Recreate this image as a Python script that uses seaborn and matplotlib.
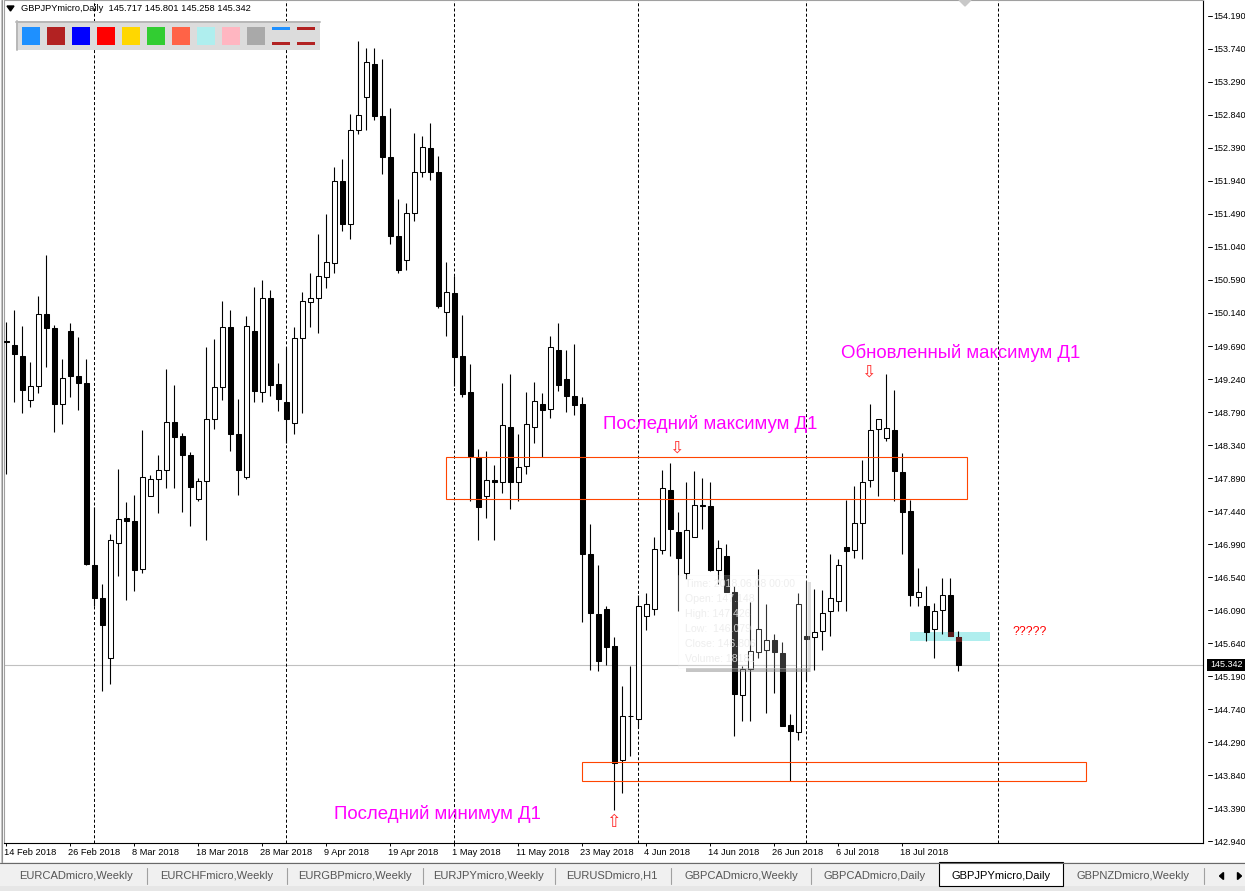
import matplotlib
matplotlib.use("Agg")
import matplotlib.pyplot as plt
import matplotlib.transforms as mtransforms
from matplotlib.patches import Rectangle, Polygon
from matplotlib.lines import Line2D
import numpy as np
import pandas as pd
import seaborn as sns

# ---------------- data ----------------
symbol = "GBPJPYmicro,Daily"
opens = [149.76, 149.71, 149.56, 148.96, 149.15, 150.12, 149.93, 148.90, 149.89, 149.28,
         149.19, 146.71, 146.26, 145.43, 147.01, 147.35, 147.30, 146.65, 147.65, 147.87,
         148.00, 148.66, 148.46, 148.20, 147.60, 147.85, 148.69, 149.13, 149.95, 148.49,
         147.90, 149.90, 149.06, 150.34, 149.17, 148.92, 148.64, 149.80, 150.29, 150.34,
         150.63, 150.82, 151.94, 151.36, 152.63, 153.09, 153.54, 152.82, 152.27, 151.19,
         150.86, 151.50, 152.06, 152.39, 152.06, 150.16, 150.41, 149.55, 149.06, 148.18,
         147.65, 147.86, 147.83, 148.59, 147.84, 148.05, 148.58, 148.90, 148.83, 149.64,
         149.24, 149.01, 148.90, 146.85, 146.04, 146.10, 145.60, 144.04, 144.64, 144.61,
         146.01, 146.11, 146.91, 147.72, 147.15, 146.60, 147.09, 147.52, 147.51, 146.64,
         146.83, 146.34, 144.93, 145.29, 145.52, 145.55, 145.68, 145.51, 144.52, 144.42,
         145.74, 145.72, 145.80, 146.07, 146.21, 146.95, 146.91, 147.27, 147.86, 148.56,
         148.43, 148.54, 147.97, 147.44, 146.27, 146.14, 145.83, 146.09, 146.29, 145.717]
highs = [150.02, 150.18, 149.96, 149.47, 150.37, 150.93, 149.98, 149.51, 150.01, 149.81,
         149.51, 147.49, 146.45, 147.13, 148.01, 147.56, 147.66, 148.55, 147.93, 148.20,
         149.38, 149.16, 148.51, 148.24, 147.89, 149.68, 149.79, 150.30, 150.18, 148.97,
         150.10, 150.50, 150.59, 150.45, 149.46, 149.67, 149.95, 150.43, 150.68, 151.22,
         151.49, 152.13, 152.24, 152.86, 153.85, 153.75, 153.75, 153.61, 152.94, 151.69,
         151.64, 152.59, 152.56, 152.73, 152.28, 150.83, 150.64, 150.11, 149.45, 148.28,
         148.26, 148.07, 149.19, 149.31, 148.49, 149.06, 149.20, 149.05, 149.83, 150.00,
         149.64, 149.72, 149.00, 147.26, 146.71, 146.14, 145.72, 145.05, 145.32, 146.29,
         146.32, 147.09, 148.00, 148.10, 147.43, 147.83, 147.99, 147.89, 147.84, 147.05,
         146.99, 146.42, 145.32, 146.20, 146.65, 146.17, 145.76, 145.65, 144.67, 146.32,
         146.48, 146.37, 146.36, 146.86, 146.78, 147.59, 147.78, 148.14, 148.90, 148.70,
         149.31, 149.09, 148.23, 147.59, 146.66, 146.42, 146.19, 146.52, 146.52, 145.801]
lows = [147.95, 148.92, 148.77, 148.86, 149.05, 149.41, 148.52, 148.63, 148.99, 148.82,
        146.70, 146.15, 144.98, 145.08, 146.55, 146.22, 146.35, 146.59, 147.64, 147.41,
        147.76, 147.75, 147.43, 147.24, 147.58, 147.04, 148.56, 148.95, 148.26, 147.66,
        147.87, 148.92, 148.92, 149.01, 148.81, 148.37, 148.49, 148.78, 149.95, 149.87,
        150.48, 150.69, 151.26, 151.15, 152.58, 152.64, 152.77, 152.04, 151.08, 150.68,
        150.72, 151.40, 152.00, 151.96, 150.21, 149.83, 149.14, 149.00, 147.58, 147.04,
        147.34, 147.04, 147.68, 147.47, 147.57, 147.94, 148.37, 148.17, 148.71, 149.08,
        148.79, 148.75, 145.93, 145.27, 145.26, 145.34, 143.36, 143.59, 144.10, 144.48,
        145.82, 146.02, 146.86, 146.82, 146.08, 146.51, 147.09, 147.19, 146.62, 146.45,
        146.33, 144.37, 144.57, 144.58, 145.44, 144.68, 144.96, 144.51, 143.76, 144.32,
        145.14, 145.27, 145.55, 145.73, 146.08, 146.08, 146.80, 146.79, 147.77, 147.64,
        148.39, 147.57, 146.86, 146.15, 146.15, 145.67, 145.44, 145.76, 145.74, 145.258]
closes = [149.74, 149.58, 149.09, 149.15, 150.12, 149.93, 148.90, 149.25, 149.28, 149.19,
          146.72, 146.26, 145.88, 147.04, 147.33, 147.30, 146.63, 147.91, 147.87, 148.00,
          148.66, 148.45, 148.20, 147.77, 147.85, 148.70, 149.13, 149.95, 148.49, 148.00,
          149.96, 149.07, 150.34, 149.16, 148.97, 148.69, 149.80, 150.30, 150.35, 150.64,
          150.83, 151.94, 151.36, 152.63, 152.84, 153.56, 152.82, 152.27, 151.19, 150.72,
          151.51, 152.06, 152.40, 152.06, 150.24, 150.42, 149.54, 149.04, 148.19, 147.50,
          147.86, 147.83, 148.61, 147.83, 148.04, 148.62, 148.94, 148.82, 149.67, 149.16,
          149.01, 148.88, 146.86, 146.05, 145.39, 145.58, 144.01, 144.64, 144.65, 146.14,
          146.17, 146.92, 147.75, 147.20, 146.80, 147.18, 147.52, 147.51, 146.64, 146.93,
          146.34, 144.95, 145.29, 145.53, 145.83, 145.68, 145.52, 144.51, 144.44, 146.17,
          145.70, 145.79, 146.05, 146.25, 146.70, 146.90, 147.27, 147.83, 148.55, 148.69,
          148.57, 147.99, 147.43, 146.29, 146.33, 145.79, 146.08, 146.30, 145.74, 145.342]

date_labels = ["14 Feb 2018", "26 Feb 2018", "8 Mar 2018", "18 Mar 2018", "28 Mar 2018",
               "9 Apr 2018", "19 Apr 2018", "1 May 2018", "11 May 2018", "23 May 2018",
               "4 Jun 2018", "14 Jun 2018", "26 Jun 2018", "6 Jul 2018", "18 Jul 2018"]
date_label_bars = [0, 8, 16, 24, 32, 40, 48, 56, 64, 72, 80, 88, 96, 104, 112]
price_ticks = [142.94, 143.39, 143.84, 144.29, 144.74, 145.19, 145.64, 146.09, 146.54,
               146.99, 147.44, 147.89, 148.34, 148.79, 149.24, 149.69, 150.14, 150.59,
               151.04, 151.49, 151.94, 152.39, 152.84, 153.29, 153.74, 154.19]
month_separator_bars = [11, 35, 56, 79, 100, 124]
bid_price = 145.342

zone_high = [147.60, 148.18]      # "Последний максимум" zone (price low/high)
zone_low = [143.754, 144.013]     # "Последний минимум" zone
zone_now = [145.667, 145.79]      # cyan zone
palette_colors = ['#1E90FF', '#B22222', '#0000FF', '#FF0000', '#FFD700',
                  '#32CD32', '#FF6347', '#AFEEEE', '#FFB6C1', '#A9A9A9']
tabs = ["EURCADmicro,Weekly", "EURCHFmicro,Weekly", "EURGBPmicro,Weekly",
        "EURJPYmicro,Weekly", "EURUSDmicro,H1", "GBPCADmicro,Weekly",
        "GBPCADmicro,Daily", "GBPJPYmicro,Daily", "GBPNZDmicro,Weekly"]
active_tab = "GBPJPYmicro,Daily"
tooltip_lines = ["Time: 2018.06.08 00:00", "Open: 147.148", "High: 147.426",
                 "Low:  146.079", "Close: 146.806", "Volume: 18181"]

# ---------------- style ----------------
sns.set_theme(style="white")
plt.rcParams['font.family'] = ['Liberation Sans', 'DejaVu Sans']

W, H = 1245, 891
fig = plt.figure(figsize=(W / 100, H / 100), dpi=100, facecolor='white')


def fx(x):
    return x / W


def fy(y):
    return 1 - y / H


def frect(x0, y0, x1, y1, **kw):
    r = Rectangle((fx(x0), fy(y1)), (x1 - x0) / W, (y1 - y0) / H,
                  transform=fig.transFigure, **kw)
    fig.add_artist(r)
    return r


def fline(xs, ys, **kw):
    fig.add_artist(Line2D([fx(v) for v in xs], [fy(v) for v in ys],
                          transform=fig.transFigure, **kw))


AX_L, AX_R, AX_T, AX_B = 4, 1203, 0, 843
ax = fig.add_axes([fx(AX_L), fy(AX_B), (AX_R - AX_L) / W, (AX_B - AX_T) / H])
ax.set_facecolor('white')

df = pd.DataFrame(dict(open=opens, high=highs, low=lows, close=closes))
df['idx'] = np.arange(len(df))
df['bull'] = df['close'] >= df['open']

# limits (pixel-calibrated)
ax.set_xlim(-0.2875, 149.5875)
ax.set_ylim(142.913, 154.408)

# month separators & bid line
for b in month_separator_bars:
    ax.axvline(b, color='black', lw=0.72, linestyle=(0, (3, 2.2)), zorder=1)
ax.axhline(bid_price, color='#C0C0C0', lw=0.8, zorder=0.8)

# cyan zone (filled, below candles)
ax.add_patch(Rectangle((113, zone_now[0]), 10, zone_now[1] - zone_now[0],
                       facecolor='#AFEEEE', edgecolor='none', zorder=1.2))

# candles
ax.vlines(df['idx'], df['low'], df['high'], color='black', lw=0.8, zorder=2)
body_lo = df[['open', 'close']].min(axis=1)
body_h = (df['close'] - df['open']).abs().clip(lower=0.006)
ax.bar(df['idx'], body_h, bottom=body_lo, width=0.58,
       color=np.where(df['bull'], 'white', 'black'), edgecolor='black',
       linewidth=0.75, zorder=3)

# dark overlap of bear bodies with the cyan zone
for i, row in df.iterrows():
    if row['idx'] >= 113 and not row['bull']:
        lo = max(min(row['open'], row['close']), zone_now[0])
        hi = min(max(row['open'], row['close']), zone_now[1])
        if hi > lo:
            ax.bar(row['idx'], hi - lo, bottom=lo, width=0.58, color='#5A1A1A',
                   edgecolor='#5A1A1A', linewidth=0.75, zorder=3.5)

# outline zones
ax.add_patch(Rectangle((55, zone_high[0]), 65.05, zone_high[1] - zone_high[0],
                       fill=False, edgecolor='#FF4500', lw=0.8, zorder=4))
ax.add_patch(Rectangle((72, zone_low[0]), 63, zone_low[1] - zone_low[0],
                       fill=False, edgecolor='#FF4500', lw=0.8, zorder=4, clip_on=False))

# annotations
mag = '#FF00FF'
ax.text(74.6, 148.558, "Последний максимум Д1", color=mag, fontsize=13.4,
        ha='left', va='baseline', zorder=5)
ax.text(104.3, 149.522, "Обновленный максимум Д1", color=mag, fontsize=13.4,
        ha='left', va='baseline', zorder=5)
ax.text(40.96, 143.236, "Последний минимум Д1", color=mag, fontsize=13.4,
        ha='left', va='baseline', zorder=5)
ax.text(125.8, 145.753, "?????", color='#FF0000', fontsize=8.8,
        ha='left', va='baseline', zorder=5)
arrow_kw = dict(color='#FF2A2A', fontsize=12.5, ha='center', va='center', zorder=5,
                family=['DejaVu Sans'])
ax.text(83.8, 148.30, "⇩", **arrow_kw)
ax.text(107.8, 149.335, "⇩", **arrow_kw)
ax.text(75.84, 143.20, "⇧", **arrow_kw)

# spines
for s in ['left', 'top']:
    ax.spines[s].set_color('#A0A0A0')
    ax.spines[s].set_linewidth(0.8)
for s in ['right', 'bottom']:
    ax.spines[s].set_color('black')
    ax.spines[s].set_linewidth(0.8)

# price axis
ax.yaxis.tick_right()
ax.set_yticks(price_ticks)
ax.set_yticklabels([f"{v:.3f}" for v in price_ticks])
ax.tick_params(axis='y', length=0, pad=7.2, labelsize=6.5, labelcolor='black')
ytrans = mtransforms.blended_transform_factory(fig.transFigure, ax.transData)
for v in price_ticks:
    fig.add_artist(Line2D([fx(1208), fx(1212)], [v, v], transform=ytrans,
                          color='black', lw=0.7))

# date axis
ax.set_xticks(date_label_bars)
ax.set_xticklabels(date_labels)
ax.tick_params(axis='x', length=2.2, width=0.7, pad=1.2, labelsize=6.7,
               labelcolor='black', color='black', direction='out', bottom=True)
off = mtransforms.ScaledTranslation(-2 / 100, 0, fig.dpi_scale_trans)
for lab in ax.get_xticklabels():
    lab.set_horizontalalignment('left')
    lab.set_transform(lab.get_transform() + off)
ax.grid(False)

# bid price label
btrans = mtransforms.blended_transform_factory(fig.transFigure, ax.transData)
fig.add_artist(Rectangle((fx(1207), bid_price - 6 / 73.333), (W - 1207) / W, 12 / 73.333,
                         transform=btrans, facecolor='black', edgecolor='none'))
bid_txt = fig.text(fx(1210), 0, f"{bid_price:.3f}", transform=btrans, color='white',
                   fontsize=6.5, ha='left', va='center')
bid_txt.set_position((fx(1210), bid_price))

# header
fig.add_artist(Polygon([(fx(7), fy(6)), (fx(14), fy(6)), (fx(10.5), fy(11))],
                       closed=True, transform=fig.transFigure, color='black'))
fig.text(fx(21), fy(8.5), f"{symbol}  145.717 145.801 145.258 145.342",
         fontsize=6.7, ha='left', va='center', color='black')
fig.add_artist(Polygon([(fx(959), fy(0)), (fx(971), fy(0)), (fx(965), fy(6))],
                       closed=True, transform=fig.transFigure, color='#C8C8C8'))

# palette panel
frect(16, 21, 320, 50, facecolor='#DCDCDC', edgecolor='none')
fline([16, 320], [21.7, 21.7], color='#B8B8B8', lw=1.4)
fline([16.7, 16.7], [21, 50], color='#B8B8B8', lw=1.4)
for k, c in enumerate(palette_colors):
    frect(22 + 25 * k, 27, 40 + 25 * k, 45, facecolor=c, edgecolor='none')
frect(272, 27, 290, 30, facecolor='#1E90FF', edgecolor='none')
frect(272, 42, 290, 45, facecolor='#B22222', edgecolor='none')
frect(297, 27, 315, 30, facecolor='#B22222', edgecolor='none')
frect(297, 42, 315, 45, facecolor='#B22222', edgecolor='none')

# faint tooltip
frect(686, 668, 810, 671.5, facecolor='#8C8C8C', edgecolor='none', alpha=0.5)
frect(807.5, 582, 810.5, 671.5, facecolor='#A0A0A0', edgecolor='none', alpha=0.35)
frect(678, 575, 808, 668, facecolor='white', edgecolor='#EDEDED', lw=0.6, alpha=0.2)
for k, line in enumerate(tooltip_lines):
    fig.text(fx(685), fy(584 + 15 * k), line, fontsize=7.6, color='#EBEBEB',
             ha='left', va='center', alpha=0.85)

# left window border
fline([0.5, 0.5], [0, 862], color='#C8C8C8', lw=0.8)
fline([2.5, 2.5], [0, 862], color='#909090', lw=0.8)

# tab bar
frect(0, 862, W, H, facecolor='#F0F0F0', edgecolor='none')
fline([0, W], [862.5, 862.5], color='#696969', lw=0.8)
frect(0, 886, W, H, facecolor='#E6E6E6', edgecolor='none')
frect(939, 862, 1063, 886, facecolor='white', edgecolor='black', lw=0.8)
tab_centers = [76, 217, 355, 489, 612, 741, 875, 1001, 1133]
for name, cx in zip(tabs, tab_centers):
    fig.text(fx(cx), fy(876), name, fontsize=8, ha='center', va='center',
             color='black' if name == active_tab else '#555555')
for sx in [147, 286.6, 423, 555, 671, 811, 1204]:
    fline([sx, sx], [868, 884], color='#A0A0A0', lw=0.8)
fig.add_artist(Polygon([(fx(1219.5), fy(876)), (fx(1223.5), fy(872.5)), (fx(1223.5), fy(879.5))],
                       closed=True, transform=fig.transFigure, color='black'))
fig.add_artist(Polygon([(fx(1241.5), fy(876)), (fx(1237.5), fy(872.5)), (fx(1237.5), fy(879.5))],
                       closed=True, transform=fig.transFigure, color='black'))

fig.savefig("out.png", dpi=100, facecolor='white')
